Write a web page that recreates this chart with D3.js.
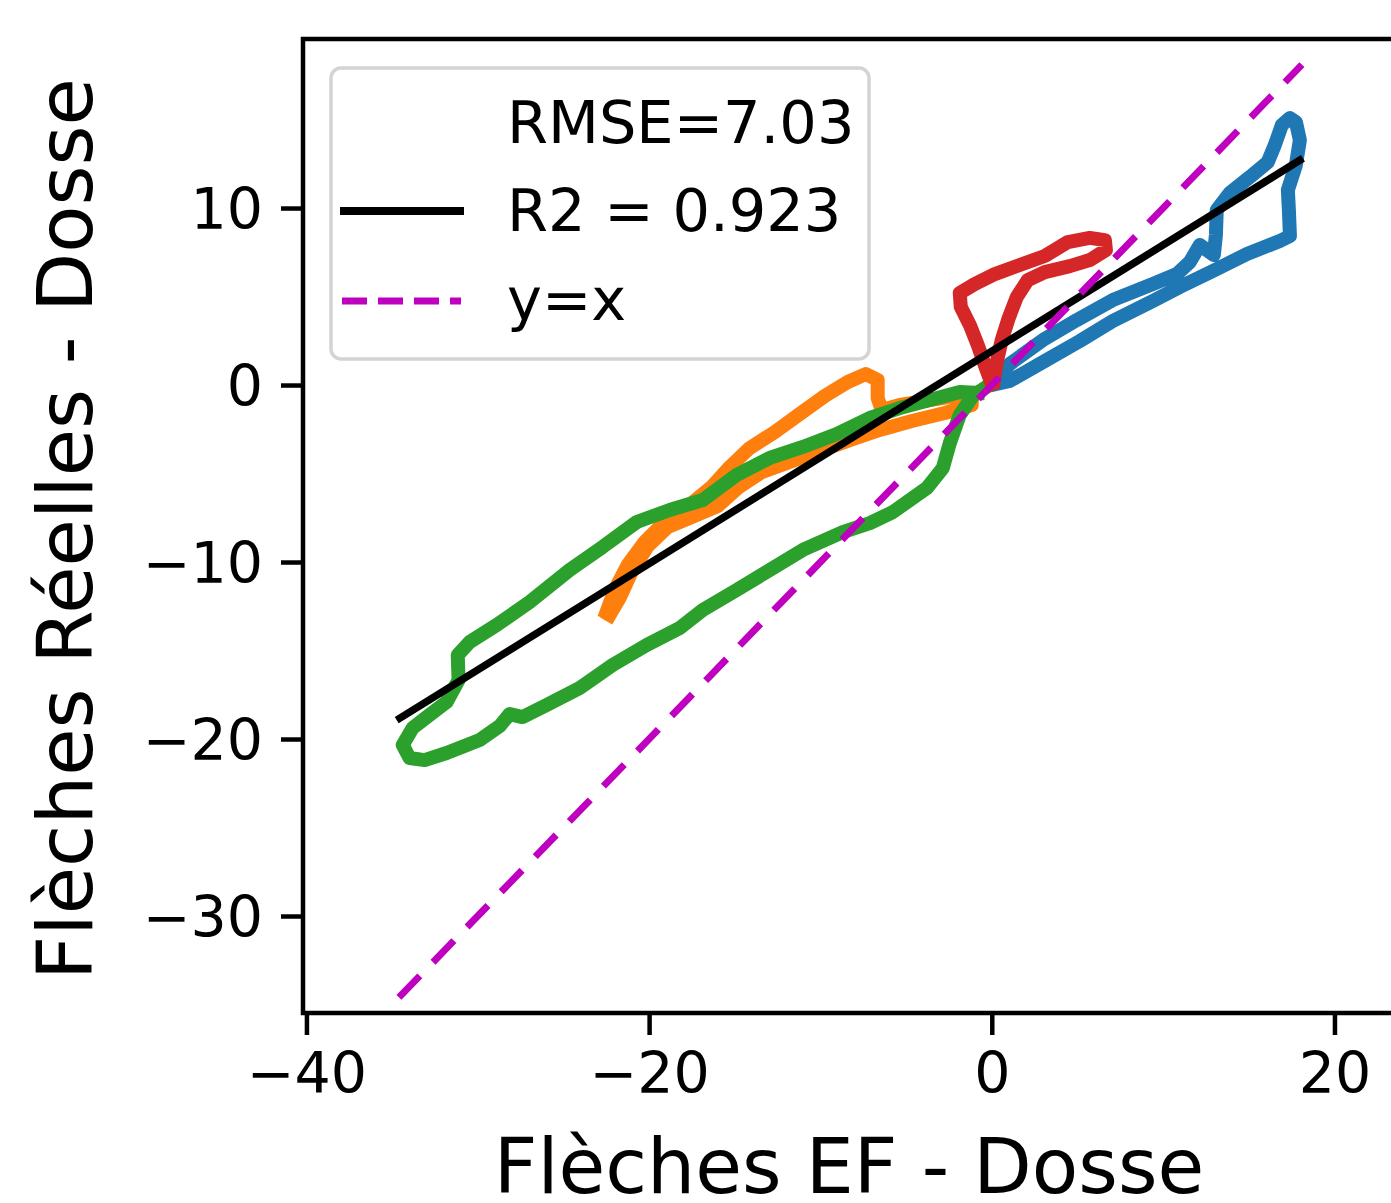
<!DOCTYPE html>
<html>
<head>
<meta charset="utf-8">
<script src="https://cdn.jsdelivr.net/npm/d3@7"></script>
<style>
  html, body { margin: 0; padding: 0; background: #fff; }
  svg { display: block; font-family: "DejaVu Sans", sans-serif; }
</style>
</head>
<body>
<div id="app"></div>
<script>
// data (x = Flèches EF, y = Flèches Réelles)
var blue = [[0.29,0.06],[1.05,0.23],[2.80,1.19],[5.14,2.49],[7.06,3.62],[9.40,4.75],[10.97,5.54],
  [12.90,6.44],[14.89,7.40],[16.81,8.14],[17.40,8.42],[17.34,9.89],[17.28,11.02],[17.75,12.43],
  [17.98,13.84],[17.75,14.86],[17.40,15.08],[16.93,14.69],[16.52,13.56],[16.11,12.60],[15.06,11.75],
  [13.89,10.85],[13.13,9.89],[13.08,8.47],[12.96,7.34],[12.14,7.91],[11.56,6.95],[10.80,6.27],
  [9.40,5.71],[7.06,4.80],[4.96,3.67],[2.98,2.54],[1.05,1.19],[0.29,0.40]];
var orange = [[-22.48,-12.82],[-22.01,-11.58],[-21.25,-10.17],[-20.26,-8.87],[-19.09,-7.74],
  [-17.63,-6.78],[-16.35,-5.76],[-15.29,-4.63],[-14.13,-3.56],[-12.67,-2.66],[-11.21,-1.64],
  [-9.75,-0.62],[-8.41,0.17],[-7.36,0.62],[-6.66,0.28],[-6.66,-0.73],[-6.42,-1.41],[-5.37,-1.13],
  [-3.62,-0.85],[-2.16,-0.62],[-1.17,-0.56],[-1.17,-1.13],[-2.74,-1.58],[-4.67,-2.03],[-6.54,-2.54],
  [-8.29,-3.11],[-10.04,-3.73],[-11.79,-4.35],[-13.43,-4.92],[-14.83,-5.82],[-16.00,-6.84],
  [-17.51,-7.46],[-18.91,-8.02],[-20.08,-9.10],[-21.02,-10.56],[-21.72,-12.03],[-22.30,-12.99]];
var green = [[-0.82,-0.45],[-1.87,-0.40],[-3.62,-0.85],[-5.37,-1.30],[-7.12,-1.86],[-9.05,-2.77],
  [-11.03,-3.50],[-12.96,-4.12],[-14.89,-5.08],[-16.87,-6.50],[-18.80,-7.06],[-20.72,-7.74],
  [-22.71,-9.15],[-24.64,-10.45],[-26.97,-12.26],[-28.90,-13.56],[-30.47,-14.52],[-31.17,-15.25],
  [-31.12,-16.67],[-31.82,-17.91],[-32.81,-18.64],[-33.80,-19.38],[-34.38,-20.34],[-33.98,-21.07],
  [-33.10,-21.19],[-31.82,-20.79],[-29.89,-20.06],[-28.72,-19.27],[-28.14,-18.59],[-27.38,-18.76],
  [-25.98,-18.08],[-24.05,-17.12],[-22.13,-15.82],[-20.14,-14.69],[-18.21,-13.73],[-16.87,-12.71],
  [-14.89,-11.58],[-12.96,-10.45],[-11.03,-9.32],[-8.70,-8.31],[-7.12,-7.80],[-5.78,-7.18],
  [-3.79,-5.82],[-2.86,-4.69],[-2.45,-3.28],[-1.87,-1.69],[-1.11,-0.62],[-0.41,-0.17]];
var red = [[0.00,0.06],[-0.41,1.13],[-0.82,2.26],[-1.28,3.39],[-1.81,4.41],[-1.87,5.20],[-0.99,5.71],
  [0.18,6.27],[1.63,6.78],[3.09,7.29],[4.44,8.08],[5.72,8.31],[6.60,8.19],[6.66,7.63],[5.72,7.06],
  [4.55,6.72],[3.09,6.38],[2.10,5.93],[1.46,4.97],[0.99,3.79],[0.58,2.54],[0.29,1.30],[0.12,0.28]];

// regression line and y=x reference
var fitX = [-34.73, 18.16];
var fitY = [-18.93, 12.81];
var identX = [-34.6, 18.1];

var xTicks = [-40, -20, 0, 20];
var yTicks = [10, 0, -10, -20, -30];
var legendLabels = ['RMSE=7.03', 'R2 = 0.923', 'y=x'];

var W = 1391, H = 1203;
var axL = 303, axT = 39, axR = 1403, axB = 1013;

var svg = d3.select('#app')
    .append('svg')
    .attr('width', W)
    .attr('height', H);

var x = d3.scaleLinear().domain([-40.2, 24.0]).range([axL, axR]);
var y = d3.scaleLinear().domain([-35.48, 19.55]).range([axB, axT]);

var line = d3.line()
    .x(function (d) { return x(d[0]) })
    .y(function (d) { return y(d[1]) });

svg.append('defs').append('clipPath').attr('id', 'clip')
    .append('rect')
    .attr('x', axL).attr('y', axT)
    .attr('width', axR - axL).attr('height', axB - axT);

var plot = svg.append('g').attr('clip-path', 'url(#clip)');

var series = [[blue, '#1f77b4'], [orange, '#ff7f0e'], [green, '#2ca02c'], [red, '#d62728']];
series.forEach(function (s) {
    plot.append('path')
        .attr('d', line(s[0]))
        .attr('fill', 'none')
        .attr('stroke', s[1])
        .attr('stroke-width', 14)
        .attr('stroke-linejoin', 'round')
        .attr('stroke-linecap', 'square');
});

plot.append('path')
    .attr('d', line(fitX.map(function (v, i) { return [v, fitY[i]] })))
    .attr('stroke', 'black')
    .attr('stroke-width', 7.5)
    .attr('fill', 'none');

plot.append('path')
    .attr('d', line(identX.map(function (v) { return [v, v] })))
    .attr('stroke', '#bf00bf')
    .attr('stroke-width', 7)
    .attr('stroke-dasharray', '30,19')
    .attr('fill', 'none');

// axes
var fmt = function (d) { return d < 0 ? '\u2212' + Math.abs(d) : d };
var xAxis = d3.axisBottom(x).tickValues(xTicks).tickSize(22).tickPadding(18).tickFormat(fmt);
var yAxis = d3.axisLeft(y).tickValues(yTicks).tickSize(22).tickPadding(18).tickFormat(fmt);

var gx = svg.append('g').attr('transform', 'translate(0,' + axB + ')').call(xAxis);
var gy = svg.append('g').attr('transform', 'translate(' + axL + ',0)').call(yAxis);

[gx, gy].forEach(function (g) {
    g.select('.domain').remove();
    g.selectAll('.tick line').attr('stroke', 'black').attr('stroke-width', 4.5);
    g.selectAll('.tick text')
        .attr('fill', 'black')
        .style('font-family', '"DejaVu Sans", sans-serif')
        .style('font-size', '57px');
});
gx.selectAll('.tick text').attr('dy', '0.71em');
gy.selectAll('.tick text').attr('dy', '0.36em');

// spines (right spine falls outside the picture)
svg.append('path')
    .attr('d', 'M' + axR + ',' + axT + 'H' + axL + 'V' + axB + 'H' + axR)
    .attr('fill', 'none')
    .attr('stroke', 'black')
    .attr('stroke-width', 4.5)
    .attr('stroke-linecap', 'square');

// axis labels
svg.append('text')
    .attr('x', (axL + axR) / 2 - 4)
    .attr('y', 1193)
    .attr('text-anchor', 'middle')
    .style('font-size', '76px')
    .text('Flèches EF - Dosse');

svg.append('text')
    .attr('transform', 'translate(92,' + ((axT + axB) / 2 + 3) + ') rotate(-90)')
    .attr('text-anchor', 'middle')
    .style('font-size', '77px')
    .text('Flèches Réelles - Dosse');

// legend
var lg = svg.append('g');
lg.append('rect')
    .attr('x', 331).attr('y', 68)
    .attr('width', 538).attr('height', 291)
    .attr('rx', 10)
    .attr('fill', 'white').attr('fill-opacity', 0.8)
    .attr('stroke', '#d4d4d4').attr('stroke-width', 3.5);

var rowY = [143, 231, 320];
legendLabels.forEach(function (t, i) {
    lg.append('text')
        .attr('x', 507)
        .attr('y', rowY[i])
        .style('font-size', '59px')
        .text(t);
});
lg.append('line')
    .attr('x1', 340).attr('x2', 464)
    .attr('y1', 211).attr('y2', 211)
    .attr('stroke', 'black').attr('stroke-width', 8);
lg.append('line')
    .attr('x1', 342).attr('x2', 461)
    .attr('y1', 301).attr('y2', 301)
    .attr('stroke', '#bf00bf').attr('stroke-width', 7)
    .attr('stroke-dasharray', '25,11');
</script>
</body>
</html>
